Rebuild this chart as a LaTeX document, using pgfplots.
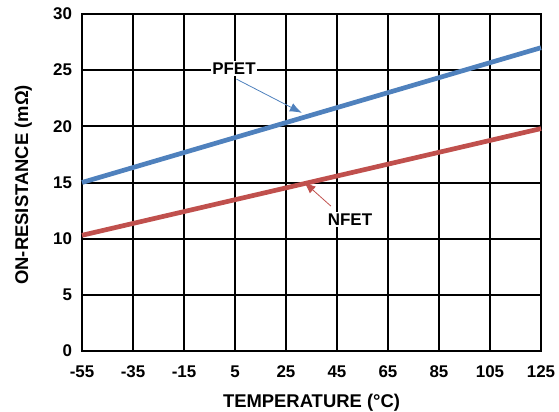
\documentclass[border=0pt]{standalone}
\usepackage{pgfplots}
\pgfplotsset{compat=1.18}
\usepackage{fontspec}
\setmainfont{Liberation Sans}[BoldFont={Liberation Sans Bold}]
\usetikzlibrary{arrows.meta}
\definecolor{pblue}{HTML}{4F81BD}
\definecolor{nred}{HTML}{C0504D}
\begin{document}
\begin{tikzpicture}
\begin{axis}[
  scale only axis, width=459bp, height=337bp,
  xmin=-55, xmax=125, ymin=0, ymax=30,
  xtick={-55,-35,-15,5,25,45,65,85,105,125},
  xticklabels={-55,-35,-15,5,25,45,65,85,105,125},
  ytick={0,5,10,15,20,25,30},
  yticklabels={0,5,10,15,20,25,30},
  grid=major, grid style={black, line width=2bp},
  axis line style={black, line width=2bp},
  tick style={draw=none},
  ticklabel style={font=\fontsize{17}{17}\selectfont\bfseries},
  xticklabel style={yshift=-11bp},
  yticklabel style={xshift=-6.5bp},
  xlabel={TEMPERATURE (°C)},
  ylabel={ON-RESISTANCE (mΩ)},
  label style={font=\fontsize{18.5}{18.5}\selectfont\bfseries},
  xlabel style={at={(axis description cs:0.5,0)}, anchor=base, yshift=-56bp},
  ylabel style={at={(axis description cs:-0.1176,0.493)}, anchor=base, rotate=0},
  clip=false,
]
\addplot[pblue, line width=4.7bp] coordinates {(-55,15.0) (125,27.0)};
\addplot[nred, line width=4.7bp] coordinates {(-55,10.3) (125,19.8)};
\draw[pblue, line width=0.8bp, -{Latex[length=12bp,width=9bp]}] (axis cs:5.6,24.2) -- (axis cs:31.2,21.2);
\node[fill=white, inner sep=1.5bp, font=\fontsize{17}{17}\selectfont\bfseries] at (axis cs:4.6,25.15) {PFET};
\draw[nred, line width=0.8bp, -{Latex[length=12bp,width=9bp]}] (axis cs:42.6,12.9) -- (axis cs:32,15.05);
\node[fill=white, inner sep=1.5bp, font=\fontsize{17}{17}\selectfont\bfseries] at (axis cs:50.1,11.72) {NFET};
\end{axis}
\pgfresetboundingbox
\path[use as bounding box] ([shift={(-82bp,-61bp)}]current axis.south west) rectangle ([shift={(18bp,14bp)}]current axis.north east);
\end{tikzpicture}
\end{document}
